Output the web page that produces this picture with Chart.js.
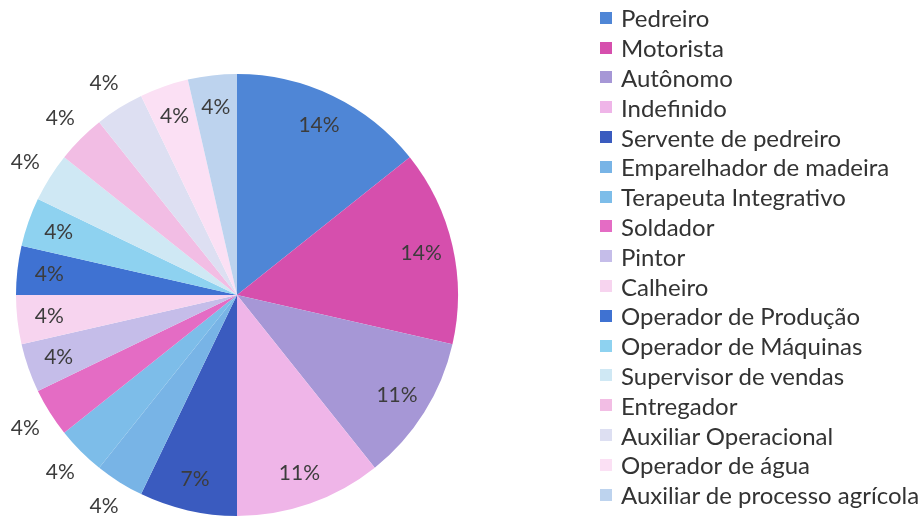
<!DOCTYPE html>
<html>
<head>
<meta charset="utf-8">
<script src="https://cdn.jsdelivr.net/npm/chart.js@4/dist/chart.umd.min.js"></script>
<style>
  html, body { margin: 0; padding: 0; background: #ffffff; }
  #wrap { position: relative; width: 924px; height: 518px; overflow: hidden; }
  #pie { position: absolute; left: 0; top: 0; }
  #legend { position: absolute; left: 600px; top: 3px; font-family: Lato, sans-serif; font-size: 24px; color: #333333; }
  .item { height: 29.8px; display: flex; align-items: center; white-space: nowrap; }
  .box { width: 12px; height: 12px; margin-right: 9px; flex: none; }
</style>
</head>
<body>
<div id="wrap">
  <canvas id="pie" width="924" height="518"></canvas>
  <div id="legend"></div>
</div>
<script>
// Profissões (contagem de respostas)
const categories = [
    'Pedreiro', 'Motorista', 'Autônomo', 'Indefinido', 'Servente de pedreiro',
    'Emparelhador de madeira', 'Terapeuta Integrativo', 'Soldador', 'Pintor', 'Calheiro',
    'Operador de Produção', 'Operador de Máquinas', 'Supervisor de vendas', 'Entregador',
    'Auxiliar Operacional', 'Operador de água', 'Auxiliar de processo agrícola'
];
const counts = [4, 4, 3, 3, 2, 1, 1, 1, 1, 1, 1, 1, 1, 1, 1, 1, 1];

const sliceColors = [
    '#4f86d6', '#d64fad', '#a697d6', '#efb5e8', '#3a5bbf',
    '#78b4e6', '#7dbde9', '#e46cc4', '#c5bde9', '#f7d4ef',
    '#3f72d2', '#8ed2f0', '#cfe8f4', '#f2bde4', '#dddff2',
    '#fbe0f4', '#bdd3ee'
];
// slices whose percentage is written outside the pie
const outsideLabels = [5, 6, 7, 12, 13, 14];

const percentLabels = {
    id: 'percentLabels',
    afterDatasetsDraw(chart) {
        const ctx = chart.ctx;
        const meta = chart.getDatasetMeta(0);
        const total = counts.reduce((a, b) => a + b, 0);
        ctx.save();
        ctx.font = '21px Lato, sans-serif';
        ctx.fillStyle = '#3c3c3c';
        ctx.textAlign = 'center';
        ctx.textBaseline = 'middle';
        meta.data.forEach((arc, i) => {
            const p = arc.getProps(['x', 'y', 'startAngle', 'endAngle', 'outerRadius'], true);
            const mid = (p.startAngle + p.endAngle) / 2;
            const r = outsideLabels.includes(i) ? p.outerRadius + 29 : p.outerRadius * 0.855;
            const txt = Math.round(counts[i] / total * 100) + '%';
            ctx.fillText(txt, p.x + Math.cos(mid) * r, p.y + Math.sin(mid) * r);
        });
        ctx.restore();
    }
};

const ctx = document.getElementById('pie').getContext('2d');
new Chart(ctx, {
    type: 'pie',
    data: {
        labels: categories,
        datasets: [{
            data: counts,
            backgroundColor: sliceColors,
            borderWidth: 0
        }]
    },
    options: {
        responsive: false,
        animation: false,
        layout: { padding: { left: 16, right: 466, top: 74, bottom: 2 } },
        plugins: {
            legend: { display: false },
            tooltip: { enabled: false }
        }
    },
    plugins: [percentLabels]
});

// legend
const legend = document.getElementById('legend');
categories.forEach((name, i) => {
    const row = document.createElement('div');
    row.className = 'item';
    const box = document.createElement('span');
    box.className = 'box';
    box.style.background = sliceColors[i];
    const label = document.createElement('span');
    label.textContent = name;
    row.appendChild(box);
    row.appendChild(label);
    legend.appendChild(row);
});
</script>
</body>
</html>
